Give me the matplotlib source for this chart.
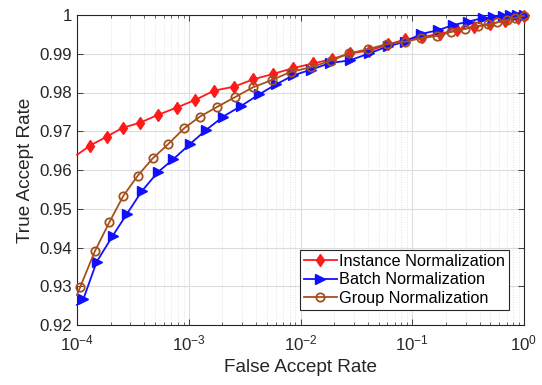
import numpy as np
import matplotlib
matplotlib.use("Agg")
import matplotlib.pyplot as plt
from matplotlib.ticker import LogLocator, FixedLocator, FuncFormatter

plt.rcParams['font.family'] = ['Liberation Sans', 'DejaVu Sans']
plt.rcParams['mathtext.fontset'] = 'custom'
plt.rcParams['mathtext.rm'] = 'Liberation Sans'
plt.rcParams['mathtext.it'] = 'Liberation Sans:italic'

# log10(FAR), TAR
in_logfar = [-4.000, -3.884, -3.734, -3.591, -3.436, -3.278, -3.108, -2.941, -2.771, -2.595,
             -2.422, -2.243, -2.067, -1.888, -1.721, -1.557, -1.384, -1.214, -1.065, -0.913,
             -0.752, -0.600, -0.447, -0.304, -0.170, -0.054, 0.000]
in_tar = [0.9639, 0.9663, 0.9686, 0.9709, 0.9722, 0.9742, 0.9761, 0.9781, 0.9805, 0.9815,
          0.9834, 0.9848, 0.9863, 0.9875, 0.9886, 0.9901, 0.9908, 0.9924, 0.9937, 0.9943,
          0.9952, 0.9961, 0.9969, 0.9977, 0.9985, 0.9992, 0.9997]

bn_logfar = [-4.000, -3.944, -3.824, -3.681, -3.555, -3.421, -3.278, -3.138, -2.989, -2.846,
             -2.691, -2.533, -2.371, -2.219, -2.066, -1.906, -1.736, -1.557, -1.384, -1.220,
             -1.065, -0.922, -0.767, -0.635, -0.498, -0.370, -0.275, -0.185, -0.125, -0.065, 0.000]
bn_tar = [0.9252, 0.9266, 0.9363, 0.9430, 0.9486, 0.9545, 0.9594, 0.9628, 0.9667, 0.9703,
          0.9738, 0.9765, 0.9795, 0.9821, 0.9844, 0.9859, 0.9876, 0.9883, 0.9901, 0.9919,
          0.9931, 0.9951, 0.9961, 0.9974, 0.9983, 0.9992, 0.9994, 0.9997, 1.0000, 1.0000, 1.0000]

gn_logfar = [-4.000, -3.973, -3.839, -3.711, -3.586, -3.457, -3.323, -3.183, -3.040, -2.899,
             -2.745, -2.586, -2.428, -2.258, -2.088, -1.909, -1.730, -1.563, -1.393, -1.229,
             -1.065, -0.922, -0.781, -0.653, -0.528, -0.409, -0.319, -0.239, -0.155, -0.081, 0.000]
gn_tar = [0.9277, 0.9297, 0.9391, 0.9465, 0.9533, 0.9585, 0.9630, 0.9667, 0.9708, 0.9738,
          0.9763, 0.9788, 0.9813, 0.9832, 0.9853, 0.9865, 0.9882, 0.9901, 0.9912, 0.9925,
          0.9931, 0.9940, 0.9946, 0.9956, 0.9964, 0.9972, 0.9976, 0.9981, 0.9987, 0.9992, 0.9998]

labels = ['Instance Normalization', 'Batch Normalization', 'Group Normalization']
yticks = [0.92, 0.93, 0.94, 0.95, 0.96, 0.97, 0.98, 0.99, 1.0]

fig = plt.figure(figsize=(5.42, 3.85), dpi=100)
ax = fig.add_axes([77/542, (385-325)/385, (524-77)/542, (325-15)/385])

brown = '#A5501C'
ax.plot(10**np.array(in_logfar), in_tar, color='#FF1A1A', marker='d', markersize=6.5,
        markerfacecolor='#FF1A1A', markeredgecolor='#FF1A1A', lw=1.3,
        markevery=slice(1, None), label=labels[0], clip_on=False, zorder=3)
ax.plot(10**np.array(bn_logfar), bn_tar, color='#1010FF', marker='>', markersize=6.5,
        markerfacecolor='#1010FF', markeredgecolor='#1010FF', lw=1.3,
        markevery=slice(1, None), label=labels[1], clip_on=False, zorder=4)
ax.plot(10**np.array(gn_logfar), gn_tar, color=brown, marker='o', markersize=6,
        markerfacecolor='none', markeredgecolor=brown, markeredgewidth=1.3, lw=1.3,
        markevery=slice(1, None), label=labels[2], clip_on=False, zorder=5)

ax.set_xscale('log')
ax.set_xlim(1e-4, 1)
ax.set_ylim(0.92, 1.0)
ax.yaxis.set_major_locator(FixedLocator(yticks))
ax.yaxis.set_major_formatter(FuncFormatter(lambda v, p: '%g' % round(v, 2)))
ax.xaxis.set_major_locator(LogLocator(base=10, numticks=10))
ax.xaxis.set_minor_locator(LogLocator(base=10, subs=np.arange(2, 10), numticks=20))

ax.grid(True, which='major', color='#DCDCDC', lw=0.8, ls='-')
ax.grid(True, which='minor', axis='x', color='#D8D8D8', lw=0.6, ls=(0, (1, 2)))
ax.set_axisbelow(True)

ax.tick_params(which='both', direction='in', top=True, right=True, labelsize=12.2,
               colors='#262626')
ax.tick_params(which='major', length=4, width=0.6)
ax.tick_params(which='minor', length=2, width=0.5)
ax.tick_params(axis='x', pad=6)
for s in ax.spines.values():
    s.set_color('#262626')
    s.set_linewidth(0.8)

ax.set_xlabel('False Accept Rate', fontsize=13.7, color='#262626', labelpad=4)
ax.set_ylabel('True Accept Rate', fontsize=13.7, color='#262626', labelpad=4)

leg = ax.legend(loc='lower right', bbox_to_anchor=(0.9664, 0.0484), fontsize=11.7,
                frameon=True, fancybox=False, edgecolor='#262626', framealpha=1,
                handlelength=2.0, handletextpad=0.15, labelspacing=0.22,
                borderpad=0.25, borderaxespad=0.0)
leg.get_frame().set_linewidth(0.8)

fig.savefig('out.png', dpi=100)
